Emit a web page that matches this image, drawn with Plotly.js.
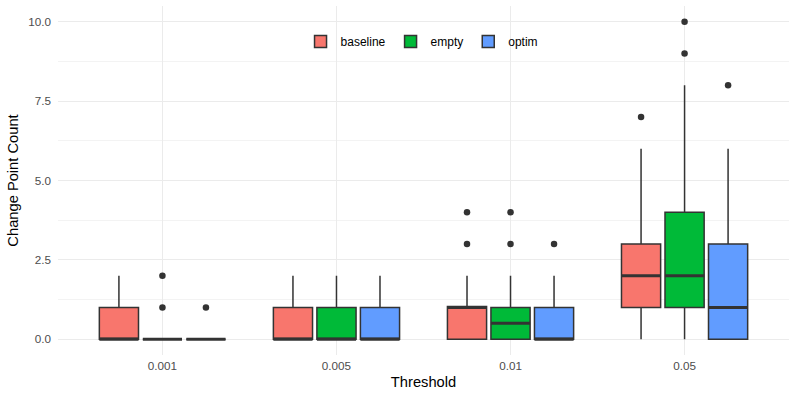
<!DOCTYPE html>
<html>
<head>
<meta charset="utf-8">
<script src="https://cdn.plot.ly/plotly-3.0.1.min.js"></script>
<style>html,body{margin:0;padding:0;background:#fff}#chart{width:797px;height:399px}</style>
</head>
<body>
<div id="chart"></div>
<script>
// Data
const thresholds = ['0.001', '0.005', '0.01', '0.05'];
const seriesNames = ['baseline', 'empty', 'optim'];
const seriesColors = ['#F8766D', '#00BA38', '#619CFF'];

const baselineLower  = [0, 0, 0, 0];
const baselineQ1     = [0, 0, 0, 1];
const baselineMedian = [0, 0, 1, 2];
const baselineQ3     = [1, 1, 1.03, 3];
const baselineUpper  = [2, 2, 2, 6];
const baselineOutliers = [[], [], [3, 4], [7]];

const emptyLower  = [0, 0, 0, 0];
const emptyQ1     = [0, 0, 0, 1];
const emptyMedian = [0, 0, 0.5, 2];
const emptyQ3     = [0, 1, 1, 4];
const emptyUpper  = [0, 2, 2, 8];
const emptyOutliers = [[1, 2], [], [3, 4], [9, 10]];

const optimLower  = [0, 0, 0, 0];
const optimQ1     = [0, 0, 0, 0];
const optimMedian = [0, 0, 0, 1];
const optimQ3     = [0, 1, 1, 3];
const optimUpper  = [0, 2, 2, 6];
const optimOutliers = [[1], [], [3], [8]];

const stats = [
  [baselineLower, baselineQ1, baselineMedian, baselineQ3, baselineUpper, baselineOutliers],
  [emptyLower, emptyQ1, emptyMedian, emptyQ3, emptyUpper, emptyOutliers],
  [optimLower, optimQ1, optimMedian, optimQ3, optimUpper, optimOutliers]
];

const dodge = 0.25;       // slot width per series (0.75 / 3)
const boxW = 0.225;       // box width with padding
const catPos = thresholds.map((t, i) => i + 1);
const lineCol = '#333333';

const traces = [];
stats.forEach((s, g) => {
  const off = (g - 1) * dodge;
  const xs = catPos.map(p => p + off);
  traces.push({
    type: 'box',
    name: seriesNames[g],
    x: xs,
    lowerfence: s[0], q1: s[1], median: s[2], q3: s[3], upperfence: s[4],
    width: boxW,
    fillcolor: seriesColors[g],
    line: {color: lineCol, width: 1.5},
    whiskerwidth: 0,
    boxpoints: false,
    hoverinfo: 'skip'
  });
});
// thicker median lines
stats.forEach((s, g) => {
  const off = (g - 1) * dodge;
  const mx = [], my = [];
  catPos.forEach((p, i) => {
    mx.push(p + off - boxW / 2, p + off + boxW / 2, null);
    my.push(s[2][i], s[2][i], null);
  });
  traces.push({type: 'scatter', mode: 'lines', x: mx, y: my, showlegend: false,
    line: {color: lineCol, width: 3}, hoverinfo: 'skip'});
});
// outliers
stats.forEach((s, g) => {
  const off = (g - 1) * dodge;
  const ox = [], oy = [];
  s[5].forEach((vals, i) => vals.forEach(v => { ox.push(catPos[i] + off); oy.push(v); }));
  traces.push({type: 'scatter', mode: 'markers', x: ox, y: oy, showlegend: false,
    marker: {color: lineCol, size: 6.5}, hoverinfo: 'skip'});
});

const layout = {
  width: 797, height: 399,
  margin: {l: 57.5, r: 7.5, t: 6, b: 44},
  paper_bgcolor: '#fff', plot_bgcolor: '#fff',
  font: {family: 'Liberation Sans, Arial, sans-serif', color: '#4D4D4D', size: 11.7},
  showlegend: true,
  legend: {orientation: 'h', x: 0.498, xanchor: 'center', y: 0.94, yanchor: 'top',
    font: {color: '#000', size: 12}, bgcolor: 'rgba(0,0,0,0)', traceorder: 'normal'},
  xaxis: {
    range: [0.4, 4.6], tickvals: catPos, ticktext: thresholds,
    showgrid: true, gridcolor: '#EBEBEB', gridwidth: 1.1, zeroline: false, showline: false,
    ticks: '', ticklabelstandoff: 2, tickfont: {color: '#4D4D4D', size: 11.7},
    title: {text: 'Threshold', font: {color: '#000', size: 14.7}, standoff: 6}
  },
  yaxis: {
    range: [-0.5, 10.5], tickvals: [0, 2.5, 5, 7.5, 10], ticktext: ['0.0', '2.5', '5.0', '7.5', '10.0'],
    showgrid: true, gridcolor: '#EBEBEB', gridwidth: 1.1, zeroline: false, showline: false,
    minor: {tickvals: [1.25, 3.75, 6.25, 8.75], showgrid: true, gridcolor: '#EBEBEB', gridwidth: 0.6, ticks: ''},
    ticks: '', ticklabelstandoff: 6, tickfont: {color: '#4D4D4D', size: 11.7},
    title: {text: 'Change Point Count', font: {color: '#000', size: 14.7}, standoff: 6}
  }
};

Plotly.newPlot('chart', traces, layout, {displayModeBar: false, staticPlot: true});
</script>
</body>
</html>
